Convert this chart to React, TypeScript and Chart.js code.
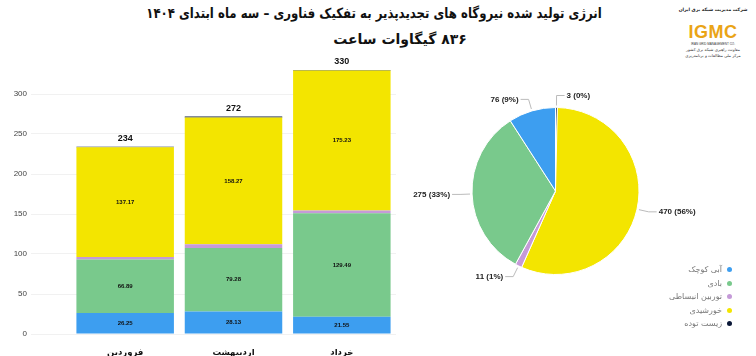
import React, { useEffect, useRef } from "react";
import { Chart, registerables } from "chart.js";
Chart.register(...registerables);

const months = ["فروردین", "اردیبهشت", "خرداد"];
const techNames = ["آبی کوچک", "بادی", "توربین انبساطی", "خورشیدی", "زیست توده"];
const techColors = ["#3d9ef0", "#79c98c", "#c59ad8", "#f3e500", "#0b1838"];
const hydro = [26.25, 28.13, 21.55];
const wind = [66.89, 79.28, 129.49];
const expansion = [3.0, 4.8, 3.2];
const solar = [137.17, 158.27, 175.23];
const biomass = [0.69, 1.52, 0.53];
const monthTotals = [234, 272, 330];
const showSegmentValue = [true, true, false, true, false];
const pieValues = [76, 275, 11, 470, 3];
const piePercents = [9, 33, 1, 56, 0];
const yMax = 340;
const yStep = 50;

const titleLine1 = "انرژی تولید شده نیروگاه های تجدیدپذیر به تفکیک فناوری – سه ماه ابتدای ۱۴۰۴";
const titleLine2 = "۸۳۶ گیگاوات ساعت";

const FONT = "'DejaVu Sans', sans-serif";

const barLabelPlugin = {
  id: "barLabels",
  afterDatasetsDraw(chart: any) {
    const ctx = chart.ctx;
    ctx.save();
    ctx.textAlign = "center";
    ctx.textBaseline = "middle";
    ctx.fillStyle = "#111";
    ctx.font = "bold 6px 'Liberation Sans', sans-serif";
    chart.data.datasets.forEach((ds: any, i: number) => {
      if (!showSegmentValue[i]) return;
      const meta = chart.getDatasetMeta(i);
      meta.data.forEach((el: any, j: number) => {
        const p = el.getProps(["x", "y", "base"], true);
        ctx.fillText(Number(ds.data[j]).toFixed(2), p.x, (p.y + p.base) / 2);
      });
    });
    ctx.font = "bold 9px 'Liberation Sans', sans-serif";
    const meta0 = chart.getDatasetMeta(0);
    meta0.data.forEach((el: any, j: number) => {
      const y = chart.scales.y.getPixelForValue(monthTotals[j]);
      ctx.fillText(String(monthTotals[j]), el.x, y - 8);
    });
    ctx.restore();
  },
};

const pieLabelPlugin = {
  id: "pieLabels",
  afterDatasetsDraw(chart: any) {
    const ctx = chart.ctx;
    const meta = chart.getDatasetMeta(0);
    const data = chart.data.datasets[0].data;
    const pcts = (chart.data.datasets[0] as any).percents;
    ctx.save();
    ctx.font = "bold 8px 'Liberation Sans', sans-serif";
    ctx.textBaseline = "middle";
    meta.data.forEach((arc: any, i: number) => {
      const p = arc.getProps(["x", "y", "startAngle", "endAngle", "outerRadius"], true);
      const mid = (p.startAngle + p.endAngle) / 2;
      const c = Math.cos(mid);
      const s = Math.sin(mid);
      const x1 = p.x + c * (p.outerRadius + 2);
      const y1 = p.y + s * (p.outerRadius + 2);
      const x2 = p.x + c * (p.outerRadius + 12);
      const y2 = p.y + s * (p.outerRadius + 12);
      const dir = c >= 0 ? 1 : -1;
      const x3 = x2 + dir * 8;
      ctx.strokeStyle = "#bbbbbb";
      ctx.lineWidth = 1;
      ctx.beginPath();
      ctx.moveTo(x1, y1);
      ctx.lineTo(x2, y2);
      ctx.lineTo(x3, y2);
      ctx.stroke();
      ctx.fillStyle = "#222";
      ctx.textAlign = dir > 0 ? "left" : "right";
      ctx.fillText(`${data[i]} (${pcts[i]}%)`, x3 + dir * 2, y2);
    });
    ctx.restore();
  },
};

function BarChart() {
  const ref = useRef<HTMLCanvasElement>(null);
  useEffect(() => {
    const series = [hydro, wind, expansion, solar, biomass];
    const chart = new Chart(ref.current!, {
      type: "bar",
      data: {
        labels: months,
        datasets: series.map((d, i) => ({
          label: techNames[i],
          data: d,
          backgroundColor: techColors[i],
          borderWidth: 0,
          categoryPercentage: 0.9,
          barPercentage: 1,
        })),
      },
      options: {
        responsive: false,
        animation: false,
        layout: { padding: { top: 12, right: 14, left: 0, bottom: 0 } },
        plugins: { legend: { display: false }, tooltip: { enabled: false } },
        scales: {
          x: {
            stacked: true,
            grid: { display: false },
            border: { display: false },
            ticks: { padding: 6, color: "#111", font: { family: FONT, size: 8.5, weight: "bold" } },
            afterFit: (s: any) => { s.height = 22; },
          },
          y: {
            stacked: true,
            min: 0,
            max: yMax,
            border: { display: false },
            grid: { color: "#f1f1f1", tickLength: 40, drawTicks: true },
            ticks: { stepSize: yStep, includeBounds: false, padding: 4, color: "#444", font: { family: "'Liberation Sans', sans-serif", size: 8 } },
            afterFit: (s: any) => { s.width = 71; },
          },
        },
      },
      plugins: [barLabelPlugin],
    });
    return () => chart.destroy();
  }, []);
  return <canvas ref={ref} width={410} height={306} style={{ position: "absolute", left: 0, top: 50, width: 410, height: 306 }} />;
}

function PieChart() {
  const ref = useRef<HTMLCanvasElement>(null);
  useEffect(() => {
    const order = [4, 3, 2, 1, 0];
    const chart = new Chart(ref.current!, {
      type: "pie",
      data: {
        labels: order.map((i) => techNames[i]),
        datasets: [{
          data: order.map((i) => pieValues[i]),
          percents: order.map((i) => piePercents[i]),
          backgroundColor: order.map((i) => techColors[i]),
          borderColor: "#ffffff",
          borderWidth: 1,
        } as any],
      },
      options: {
        responsive: false,
        animation: false,
        layout: { padding: { left: 61, right: 116, top: 57, bottom: 81 } },
        plugins: { legend: { display: false }, tooltip: { enabled: false } },
      },
      plugins: [pieLabelPlugin],
    });
    return () => chart.destroy();
  }, []);
  return <canvas ref={ref} width={346} height={306} style={{ position: "absolute", left: 410, top: 50, width: 346, height: 306 }} />;
}

export default function App() {
  return (
    <div style={{ position: "fixed", left: 0, top: 0, width: 756, height: 356, background: "#fff", overflow: "hidden", fontFamily: FONT }}>
      <div dir="rtl" style={{ position: "absolute", left: 74, width: 600, top: 5, textAlign: "center", fontWeight: "bold", fontSize: 14, color: "#111", whiteSpace: "nowrap", transform: "scaleX(0.84)" }}>{titleLine1}</div>
      <div dir="rtl" style={{ position: "absolute", left: 250, width: 300, top: 31, textAlign: "center", fontWeight: "bold", fontSize: 14, color: "#111", whiteSpace: "nowrap" }}>{titleLine2}</div>
      <div style={{ position: "absolute", left: 676, top: 6, width: 74, textAlign: "center" }}>
        <div dir="rtl" style={{ fontSize: 4.5, fontWeight: "bold", color: "#222", lineHeight: "7px", whiteSpace: "nowrap" }}>شرکت مدیریت شبکه برق ایران</div>
        <div style={{ fontFamily: "'Liberation Sans', sans-serif", fontSize: 18, fontWeight: "bold", color: "#eaa416", lineHeight: "19px", letterSpacing: 0.5, marginTop: 10 }}>IGMC</div>
        <div style={{ fontFamily: "'Liberation Sans', sans-serif", fontSize: 3, color: "#333", lineHeight: "5px" }}>IRAN GRID MANAGEMENT CO.</div>
        <div dir="rtl" style={{ fontSize: 4, color: "#333", lineHeight: "6px", whiteSpace: "nowrap" }}>معاونت راهبری شبکه برق کشور</div>
        <div dir="rtl" style={{ fontSize: 4, color: "#333", lineHeight: "6px", whiteSpace: "nowrap" }}>مرکز ملی مطالعات و برنامه‌ریزی</div>
      </div>
      <BarChart />
      <PieChart />
      <div style={{ position: "absolute", left: 640, top: 263, width: 92 }}>
        {techNames.map((n, i) => (
          <div key={n} style={{ display: "flex", justifyContent: "flex-end", alignItems: "center", height: 13.5 }}>
            <span dir="rtl" style={{ fontSize: 8, color: "#777", marginRight: 5 }}>{n}</span>
            <span style={{ width: 5, height: 5, borderRadius: "50%", background: techColors[i], display: "inline-block" }} />
          </div>
        ))}
      </div>
    </div>
  );
}
